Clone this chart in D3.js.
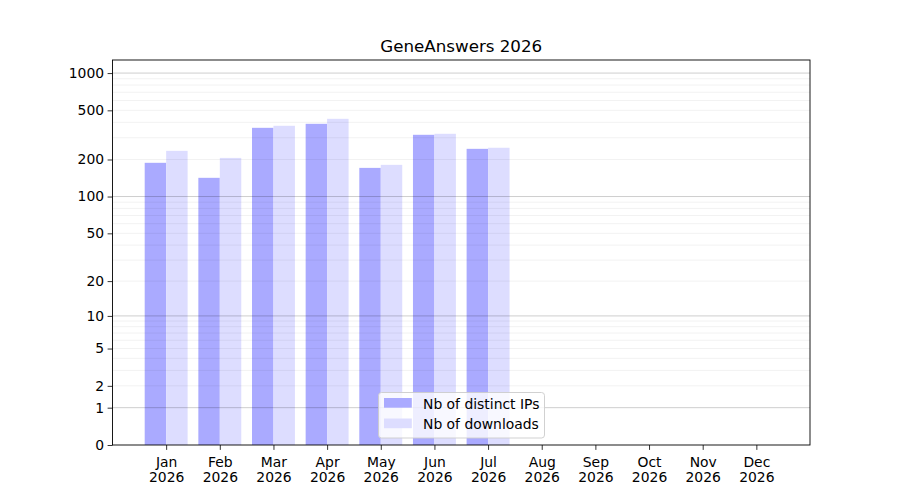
<!DOCTYPE html>
<html><head><meta charset="utf-8">
<script src="https://cdn.jsdelivr.net/npm/d3@7"></script>
<style>body{margin:0;background:#fff}svg{display:block}text{font-family:"DejaVu Sans",sans-serif}</style>
</head><body>
<svg id="c" width="900" height="500"></svg>
<script>
const months = ["Jan","Feb","Mar","Apr","May","Jun","Jul","Aug","Sep","Oct","Nov","Dec"];
const yearLabel = "2026";
const distinctIPs = [188, 142, 361, 389, 171, 317, 244];
const downloads = [235, 206, 375, 427, 181, 323, 249];
const yTicks = [0, 1, 2, 5, 10, 20, 50, 100, 200, 500, 1000];
const majorGrid = [1, 10, 100, 1000];
const minorGrid = [2,3,4,5,6,7,8,9,20,30,40,50,60,70,80,90,200,300,400,500,600,700,800,900];
const seriesNames = ["Nb of distinct IPs", "Nb of downloads"];
const colors = ["#aaaaff", "#ddddff"];

const L = 112.5, R = 810, T = 60, B = 445;
const svg = d3.select("#c");
const x = d3.scaleLinear().domain([-1, 12]).range([L, R]);
const y = d3.scaleSymlog().constant(1).domain([0, 1275]).range([B, T]);
const bw = 0.4;

const g = svg.append("g");
// bars
[distinctIPs, downloads].forEach((arr, s) => {
  g.selectAll(null).data(arr).enter().append("rect")
    .attr("x", (d, i) => x(i + (s === 0 ? -bw : 0)))
    .attr("width", x(bw) - x(0))
    .attr("y", d => y(d))
    .attr("height", d => B - y(d))
    .attr("fill", colors[s]);
});
// grid
g.selectAll(null).data(minorGrid).enter().append("line")
  .attr("x1", L).attr("x2", R).attr("y1", d => y(d)).attr("y2", d => y(d))
  .attr("stroke", "#000").attr("stroke-opacity", 0.07).attr("stroke-width", 0.8);
g.selectAll(null).data(majorGrid).enter().append("line")
  .attr("x1", L).attr("x2", R).attr("y1", d => y(d)).attr("y2", d => y(d))
  .attr("stroke", "#000").attr("stroke-opacity", 0.22).attr("stroke-width", 0.9);

// axes
const yAxis = d3.axisLeft(y).tickValues(yTicks).tickFormat(d3.format("d")).tickSizeOuter(0).tickSize(4.9).tickPadding(3.5);
const ya = svg.append("g").attr("transform", `translate(${L},0)`).call(yAxis);
ya.select(".domain").remove();
ya.selectAll("text").attr("font-size", "13.9px").attr("fill", "#000");
ya.selectAll("line").attr("stroke", "#000").attr("stroke-width", 0.8);

const xAxis = d3.axisBottom(x).tickValues(d3.range(12)).tickFormat(() => "").tickSize(4.9).tickSizeOuter(0);
const xa = svg.append("g").attr("transform", `translate(0,${B})`).call(xAxis);
xa.select(".domain").remove();
xa.selectAll("line").attr("stroke", "#000").attr("stroke-width", 0.8);
xa.selectAll(".tick").each(function(d) {
  const t = d3.select(this).append("text").attr("font-size", "13.9px").attr("fill", "#000").attr("text-anchor", "middle");
  t.append("tspan").attr("x", 0).attr("y", 21.5).text(months[d]);
  t.append("tspan").attr("x", 0).attr("y", 36.7).text(yearLabel);
});

// frame
svg.append("rect").attr("x", L).attr("y", T).attr("width", R - L).attr("height", B - T)
  .attr("fill", "none").attr("stroke", "#000").attr("stroke-width", 0.9);

// title
svg.append("text").attr("x", (L + R) / 2).attr("y", 51.7).attr("text-anchor", "middle")
  .attr("font-size", "16.7px").attr("fill", "#000").text("GeneAnswers 2026");

// legend
const lg = svg.append("g");
lg.append("rect").attr("x", 378.5).attr("y", 392.5).attr("width", 166).attr("height", 45.5).attr("rx", 3)
  .attr("fill", "#fff").attr("fill-opacity", 0.8).attr("stroke", "#cccccc").attr("stroke-width", 0.9);
seriesNames.forEach((n, i) => {
  lg.append("rect").attr("x", 384).attr("y", 398 + i * 20.5).attr("width", 27.8).attr("height", 9.7).attr("fill", colors[i]);
  lg.append("text").attr("x", 423).attr("y", 408.5 + i * 20.5).attr("font-size", "13.9px").attr("fill", "#000").text(n);
});
</script>
</body></html>
